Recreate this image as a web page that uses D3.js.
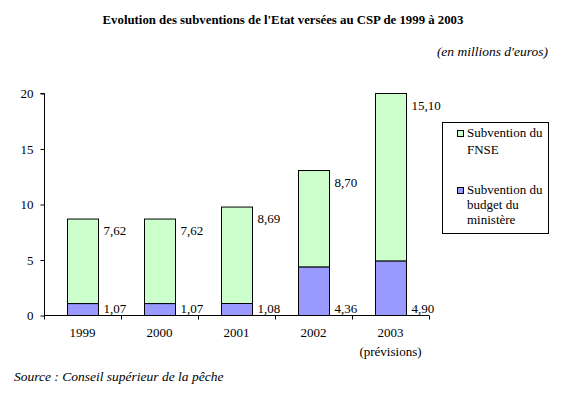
<!DOCTYPE html>
<html>
<head>
<meta charset="utf-8">
<script src="https://cdn.jsdelivr.net/npm/d3@7"></script>
<style>
  body { margin: 0; background: #fff; }
</style>
</head>
<body>
<div id="chart"></div>
<script>
// Données (en millions d'euros)
const years = ['1999', '2000', '2001', '2002', '2003'];
const budget = [1.07, 1.07, 1.08, 4.36, 4.90];
const fnse = [7.62, 7.62, 8.69, 8.70, 15.10];
const yTicks = [0, 5, 10, 15, 20];

const width = 564, height = 395;
const colors = { fnse: '#ccffcc', budget: '#9999ff' };
const FONT = '"Liberation Serif", "Times New Roman", Times, serif';

const svg = d3.select('#chart')
    .append('svg')
    .attr('width', width)
    .attr('height', height)
    .attr('font-family', FONT);

// petit utilitaire pour le texte
function label(parent, x, y, txt, size = 13) {
    return parent.append('text')
        .attr('x', x)
        .attr('y', y)
        .style('font-family', FONT)
        .style('font-size', size + 'px')
        .attr('fill', '#000')
        .text(txt);
}

// Echelles
const x = d3.scaleBand()
    .domain(years)
    .range([44, 429])
    .padding(0);

const y = d3.scaleLinear()
    .domain([0, 20])
    .range([315.5, 93.5]);

const barW = 31;

// Titre
label(svg, 283, 24, "Evolution des subventions de l'Etat versées au CSP de 1999 à 2003", 12.8)
    .attr('text-anchor', 'middle')
    .style('font-weight', 'bold');

label(svg, 548, 56, "(en millions d'euros)", 13.5)
    .attr('text-anchor', 'end')
    .style('font-style', 'italic');

// Barres empilées
const rows = years.map((yr, i) => ({ year: yr, budget: budget[i], fnse: fnse[i] }));
const fmt = v => d3.format('.2f')(v).replace('.', ',');

const g = svg.append('g');

rows.forEach(d => {
    const cx = x(d.year) + x.bandwidth() / 2;
    const x0 = Math.round(cx - barW / 2) + 0.5;
    const total = d.budget + d.fnse;

    g.append('rect')
        .attr('x', x0)
        .attr('y', y(total))
        .attr('width', barW)
        .attr('height', y(d.budget) - y(total))
        .attr('fill', colors.fnse)
        .attr('stroke', '#000');

    g.append('rect')
        .attr('x', x0)
        .attr('y', y(d.budget))
        .attr('width', barW)
        .attr('height', y(0) - y(d.budget))
        .attr('fill', colors.budget)
        .attr('stroke', '#000');

    // Etiquettes
    label(g, x0 + barW + 5, y(total) + 16, fmt(d.fnse));
    label(g, x0 + barW + 5, y(0) - 3, fmt(d.budget));
});

// Axe Y
const yAxis = svg.append('g')
    .attr('transform', 'translate(44.5,0)')
    .call(d3.axisLeft(y).tickValues(yTicks).tickSize(4).tickPadding(7));
yAxis.attr('font-family', FONT);
yAxis.selectAll('path, line').attr('stroke', '#000');
yAxis.select('.domain').attr('d', `M-4,${y(20)}H0V${y(0)}`);
yAxis.selectAll('text')
    .style('font-size', '13px')
    .style('font-family', FONT);

// Axe X
const xAxis = svg.append('g')
    .attr('transform', `translate(0,${y(0)})`)
    .call(d3.axisBottom(x).tickSize(0).tickFormat(''));
xAxis.select('.domain').attr('stroke', '#000').attr('d', 'M44,0H429');
xAxis.selectAll('.tick').remove();

d3.range(years.length + 1).forEach(i => {
    const tx = Math.round(44 + i * x.bandwidth()) + 0.5;
    xAxis.append('line')
        .attr('x1', tx).attr('x2', tx)
        .attr('y1', 0).attr('y2', 4)
        .attr('stroke', '#000');
});

years.forEach(yr => {
    label(svg, x(yr) + x.bandwidth() / 2, 337, yr).attr('text-anchor', 'middle');
});
label(svg, x('2003') + x.bandwidth() / 2, 356, '(prévisions)').attr('text-anchor', 'middle');

// Légende
const legend = svg.append('g');
legend.append('rect')
    .attr('x', 442.5).attr('y', 122.5)
    .attr('width', 106).attr('height', 111)
    .attr('fill', '#fff')
    .attr('stroke', '#000');

const legendItems = [
    { color: colors.fnse, lines: ['Subvention du', 'FNSE'], y0: 137, dy: 17 },
    { color: colors.budget, lines: ['Subvention du', 'budget du', 'ministère'], y0: 194, dy: 15 }
];
legendItems.forEach(item => {
    legend.append('rect')
        .attr('x', 457.5).attr('y', item.y0 - 6.5)
        .attr('width', 6).attr('height', 6)
        .attr('fill', item.color)
        .attr('stroke', '#000');
    item.lines.forEach((line, j) => {
        label(legend, 467, item.y0 + j * item.dy, line);
    });
});

// Source
label(svg, 14, 381, 'Source : Conseil supérieur de la pêche', 13.5)
    .style('font-style', 'italic');
</script>
</body>
</html>
